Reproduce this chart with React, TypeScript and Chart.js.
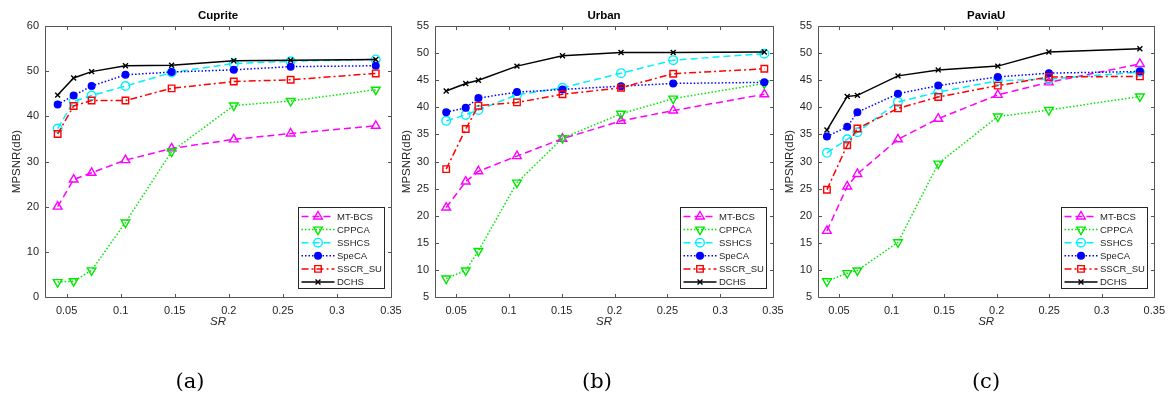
import React, { useEffect, useRef } from "react";
import { Chart, registerables } from "chart.js";
import { drawPoint } from "chart.js/helpers";

Chart.register(...registerables);

// ---------- DATA ----------
const seriesNames = ["MT-BCS", "CPPCA", "SSHCS", "SpeCA", "SSCR_SU", "DCHS"];

const xTicks = [0.05, 0.1, 0.15, 0.2, 0.25, 0.3, 0.35];
const yTicksCuprite = [0, 10, 20, 30, 40, 50, 60];
const yTicksUrban = [5, 10, 15, 20, 25, 30, 35, 40, 45, 50, 55];
const yTicksPavia = [5, 10, 15, 20, 25, 30, 35, 40, 45, 50, 55];

const srCuprite = [0.0417, 0.0565, 0.0731, 0.1044, 0.1471, 0.2046, 0.2572, 0.3359];
const cupriteMTBCS = [20.0, 26.0, 27.5, 30.3, 32.9, 34.9, 36.2, 37.9];
const cupriteCPPCA = [3.3, 3.5, 5.9, 16.5, 32.2, 42.4, 43.4, 45.9];
const cupriteSSHCS = [37.3, 43.3, 44.6, 46.7, 49.7, 51.7, 52.2, 52.6];
const cupriteSpeCA = [42.6, 44.6, 46.7, 49.2, 49.8, 50.3, 51.0, 51.2];
const cupriteSSCR = [36.1, 42.3, 43.5, 43.5, 46.2, 47.7, 48.1, 49.5];
const cupriteDCHS = [44.7, 48.5, 49.9, 51.2, 51.3, 52.3, 52.4, 52.6];

const srUrban = [0.0406, 0.0591, 0.0711, 0.1076, 0.1507, 0.2061, 0.2555, 0.3418];
const urbanMTBCS = [21.5, 26.3, 28.2, 31.0, 34.2, 37.5, 39.4, 42.4];
const urbanCPPCA = [8.4, 9.9, 13.5, 26.1, 34.3, 38.8, 41.6, 44.4];
const urbanSSHCS = [37.5, 38.6, 39.5, 42.3, 43.6, 46.3, 48.7, 49.9];
const urbanSpeCA = [39.1, 39.9, 41.7, 42.8, 43.3, 43.9, 44.4, 44.6];
const urbanSSCR = [28.6, 36.0, 40.3, 40.9, 42.4, 43.6, 46.2, 47.1];
const urbanDCHS = [43.0, 44.4, 45.0, 47.6, 49.5, 50.1, 50.1, 50.2];

const srPavia = [0.0385, 0.0578, 0.0675, 0.1061, 0.1444, 0.2011, 0.2497, 0.3363];
const paviaMTBCS = [17.2, 25.4, 27.7, 34.1, 37.9, 42.3, 44.6, 48.0];
const paviaCPPCA = [7.9, 9.4, 9.9, 15.1, 29.6, 38.3, 39.5, 42.0];
const paviaSSHCS = [31.6, 34.1, 35.4, 41.0, 42.8, 44.9, 45.2, 46.5];
const paviaSpeCA = [34.6, 36.4, 39.1, 42.5, 44.0, 45.6, 46.3, 46.6];
const paviaSSCR = [24.8, 33.0, 36.1, 39.8, 41.9, 44.0, 45.6, 45.7];
const paviaDCHS = [35.8, 42.0, 42.2, 45.8, 46.9, 47.6, 50.2, 50.8];

// ---------- STYLES ----------
const TRANSP = "rgba(0,0,0,0)";
const seriesStyles = [
  { color: "#ff00ff", dash: [7, 4], pointStyle: "triangle", rotation: 0, radius: 5, fill: TRANSP },
  { color: "#00e800", dash: [1.5, 2], pointStyle: "triangle", rotation: 180, radius: 5, fill: TRANSP },
  { color: "#00f0ff", dash: [7, 4], pointStyle: "circle", rotation: 0, radius: 4.3, fill: TRANSP },
  { color: "#0000ff", dash: [1.5, 2], pointStyle: "circle", rotation: 0, radius: 3.3, fill: "#0000ff" },
  { color: "#ff0000", dash: [7, 3, 2, 3], pointStyle: "rect", rotation: 0, radius: 4.6, fill: TRANSP },
  { color: "#000000", dash: [], pointStyle: "crossRot", rotation: 0, radius: 3.5, fill: TRANSP },
];

const W = 1172;
const H = 396;
const PLOT_TOP = 26;
const PLOT_BOTTOM = 297;
const Y_AXIS_W = 40;
const X_AXIS_H = 30;
const FONT = "'Liberation Sans', Arial, Helvetica, sans-serif";
const TEXT_COLOR = "#262626";

const panels = [
  {
    title: "Cuprite", sr: srCuprite,
    series: [cupriteMTBCS, cupriteCPPCA, cupriteSSHCS, cupriteSpeCA, cupriteSSCR, cupriteDCHS],
    yMin: 0, yMax: 60, yTicks: yTicksCuprite, left: 45, right: 391,
  },
  {
    title: "Urban", sr: srUrban,
    series: [urbanMTBCS, urbanCPPCA, urbanSSHCS, urbanSpeCA, urbanSSCR, urbanDCHS],
    yMin: 5, yMax: 55, yTicks: yTicksUrban, left: 435, right: 773,
  },
  {
    title: "PaviaU", sr: srPavia,
    series: [paviaMTBCS, paviaCPPCA, paviaSSHCS, paviaSpeCA, paviaSSCR, paviaDCHS],
    yMin: 5, yMax: 55, yTicks: yTicksPavia, left: 818, right: 1160,
  },
];

const captions = [
  { text: "(a)", x: 190 },
  { text: "(b)", x: 597 },
  { text: "(c)", x: 986 },
];

// ---------- PLUGINS ----------
const framePlugin = {
  id: "frame",
  afterDatasetsDraw(chart: any) {
    const { ctx, chartArea, scales } = chart;
    const { left, right, top, bottom } = chartArea;
    const x = scales.x;
    const y = scales.y;
    ctx.save();
    ctx.setLineDash([]);
    ctx.strokeStyle = "#555555";
    ctx.lineWidth = 1;
    const L = Math.round(left) + 0.5;
    const R = Math.round(right) + 0.5;
    const T = Math.round(top) + 0.5;
    const B = Math.round(bottom) + 0.5;
    ctx.beginPath();
    ctx.rect(L, T, R - L, B - T);
    const tl = 3.5;
    x.ticks.forEach((t: any) => {
      const px = Math.round(x.getPixelForValue(t.value)) + 0.5;
      ctx.moveTo(px, B);
      ctx.lineTo(px, B - tl);
      ctx.moveTo(px, T);
      ctx.lineTo(px, T + tl);
    });
    y.ticks.forEach((t: any) => {
      const py = Math.round(y.getPixelForValue(t.value)) + 0.5;
      ctx.moveTo(L, py);
      ctx.lineTo(L + tl, py);
      ctx.moveTo(R, py);
      ctx.lineTo(R - tl, py);
    });
    ctx.stroke();
    ctx.restore();
  },
};

const decorPlugin = {
  id: "decor",
  afterDraw(chart: any, _args: any, opts: any) {
    const { ctx, chartArea } = chart;
    const { left, right, top, bottom } = chartArea;
    const cx = (left + right) / 2;
    ctx.save();
    ctx.setLineDash([]);
    // title
    ctx.fillStyle = "#000";
    ctx.font = `bold 11.5px ${FONT}`;
    ctx.textAlign = "center";
    ctx.textBaseline = "middle";
    ctx.fillText(opts.title, cx, 16);
    // x title
    ctx.fillStyle = TEXT_COLOR;
    ctx.font = `italic 11.5px ${FONT}`;
    ctx.fillText("SR", cx, 322);
    // y title
    ctx.save();
    ctx.translate(left - 28, (top + bottom) / 2);
    ctx.rotate(-Math.PI / 2);
    ctx.font = `11.5px ${FONT}`;
    ctx.fillText("MPSNR(dB)", 0, 0);
    ctx.restore();

    // legend
    const bw = 86;
    const bh = 81;
    const bx = Math.round(right - 7 - bw) + 0.5;
    const by = Math.round(bottom - 9 - bh) + 0.5;
    ctx.fillStyle = "#ffffff";
    ctx.fillRect(bx, by, bw, bh);
    ctx.strokeStyle = "#262626";
    ctx.lineWidth = 1;
    ctx.strokeRect(bx, by, bw, bh);
    chart.data.datasets.forEach((ds: any, i: number) => {
      const yy = by + 9 + i * 13.1;
      ctx.save();
      ctx.strokeStyle = ds.borderColor;
      ctx.lineWidth = ds.borderWidth;
      ctx.setLineDash(ds.borderDash || []);
      ctx.beginPath();
      ctx.moveTo(bx + 3, yy);
      ctx.lineTo(bx + 36, yy);
      ctx.stroke();
      ctx.setLineDash([]);
      ctx.fillStyle = ds.pointBackgroundColor;
      ctx.strokeStyle = ds.pointBorderColor;
      ctx.lineWidth = ds.pointBorderWidth;
      drawPoint(ctx, {
        pointStyle: ds.pointStyle,
        rotation: ds.pointRotation,
        radius: ds.pointRadius,
        borderWidth: ds.pointBorderWidth,
      } as any, bx + 19.5, yy);
      ctx.restore();
      ctx.fillStyle = TEXT_COLOR;
      ctx.font = `9.5px ${FONT}`;
      ctx.textAlign = "left";
      ctx.textBaseline = "middle";
      ctx.fillText(ds.label, bx + 38.5, yy + 0.5);
    });
    ctx.restore();
  },
};

function fmtX(v: number) {
  const s = Number(v).toFixed(2);
  return s.endsWith("0") ? s.slice(0, -1) : s;
}

function PanelChart({ panel }: { panel: any }) {
  const ref = useRef<HTMLCanvasElement | null>(null);
  useEffect(() => {
    if (!ref.current) return;
    const datasets = panel.series.map((vals: number[], i: number) => {
      const st = seriesStyles[i];
      return {
        label: seriesNames[i],
        data: panel.sr.map((x: number, j: number) => ({ x, y: vals[j] })),
        borderColor: st.color,
        backgroundColor: st.color,
        borderWidth: 1.5,
        borderDash: st.dash,
        pointStyle: st.pointStyle,
        pointRotation: st.rotation,
        pointRadius: st.radius,
        pointBorderWidth: 1.4,
        pointBorderColor: st.color,
        pointBackgroundColor: st.fill,
        pointHoverRadius: st.radius,
        pointHitRadius: 0,
        tension: 0,
        fill: false,
        order: 6 - i,
      };
    });
    const chart = new Chart(ref.current, {
      type: "line",
      data: { datasets },
      options: {
        animation: false,
        responsive: false,
        maintainAspectRatio: false,
        events: [],
        layout: {
          padding: {
            left: panel.left - Y_AXIS_W,
            right: W - panel.right,
            top: PLOT_TOP,
            bottom: H - PLOT_BOTTOM - X_AXIS_H,
          },
        },
        plugins: {
          legend: { display: false },
          title: { display: false },
          tooltip: { enabled: false },
          decor: { title: panel.title },
        } as any,
        scales: {
          x: {
            type: "linear",
            min: 0.03,
            max: 0.35,
            grid: { display: false, drawTicks: false },
            border: { display: false },
            ticks: {
              padding: 7,
              color: TEXT_COLOR,
              font: { family: FONT, size: 11 },
              maxRotation: 0,
              autoSkip: false,
              callback: (v: any) => fmtX(v),
            },
            afterBuildTicks: (s: any) => {
              s.ticks = xTicks.map((v) => ({ value: v }));
            },
            afterFit: (s: any) => {
              s.height = X_AXIS_H;
            },
          },
          y: {
            type: "linear",
            min: panel.yMin,
            max: panel.yMax,
            grid: { display: false, drawTicks: false },
            border: { display: false },
            ticks: {
              padding: 6,
              color: TEXT_COLOR,
              font: { family: FONT, size: 11 },
              autoSkip: false,
              callback: (v: any) => String(v),
            },
            afterBuildTicks: (s: any) => {
              s.ticks = panel.yTicks.map((v: number) => ({ value: v }));
            },
            afterFit: (s: any) => {
              s.width = Y_AXIS_W;
            },
          },
        },
      },
      plugins: [framePlugin, decorPlugin],
    } as any);
    return () => chart.destroy();
  }, [panel]);
  return (
    <canvas
      ref={ref}
      width={W}
      height={H}
      style={{ position: "absolute", left: 0, top: 0, width: W, height: H }}
    />
  );
}

export default function App() {
  return (
    <div
      style={{
        position: "absolute",
        left: 0,
        top: 0,
        width: W,
        height: H,
        background: "#ffffff",
        overflow: "hidden",
      }}
    >
      {panels.map((p, i) => (
        <PanelChart key={i} panel={p} />
      ))}
      {captions.map((c, i) => (
        <div
          key={i}
          style={{
            position: "absolute",
            left: c.x - 40,
            width: 80,
            top: 367,
            height: 28,
            lineHeight: "28px",
            textAlign: "center",
            fontFamily: "'DejaVu Serif', serif",
            fontSize: 21,
            color: "#000",
          }}
        >
          {c.text}
        </div>
      ))}
    </div>
  );
}
